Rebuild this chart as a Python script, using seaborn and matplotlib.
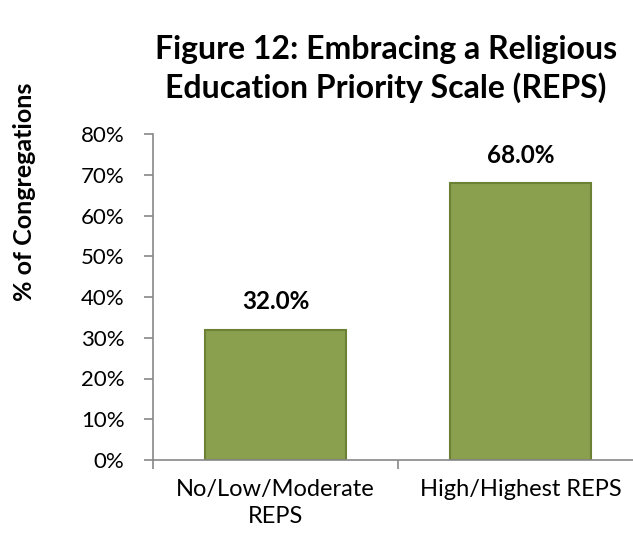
import pandas as pd
import matplotlib.pyplot as plt
import seaborn as sns

categories = ['No/Low/Moderate\nREPS', 'High/Highest REPS']
values = [32.0, 68.0]
yticks = [0, 10, 20, 30, 40, 50, 60, 70, 80]

df = pd.DataFrame({'group': categories, 'pct': values})

sns.set_style('ticks')
plt.rcParams['font.family'] = ['Lato', 'DejaVu Sans']
plt.rcParams['text.color'] = 'black'
plt.rcParams['xtick.color'] = '#888888'
plt.rcParams['ytick.color'] = '#888888'
plt.rcParams['xtick.labelcolor'] = 'black'
plt.rcParams['ytick.labelcolor'] = 'black'

fig = plt.figure(figsize=(6.33, 5.34), dpi=100)
ax = fig.add_axes([153 / 633, 74 / 534, 490 / 633, 326 / 534])

sns.barplot(data=df, x='group', y='pct', color='#8aa04e', saturation=1,
            width=0.575, edgecolor='#6b8235', linewidth=1.5, ax=ax)

for i, v in enumerate(values):
    ax.text(i, v + 4, f'{v:.1f}%', ha='center', va='bottom',
            fontsize=17.5, fontweight='bold', color='black')

ax.set_xlim(-0.5, 1.5)
ax.set_ylim(0, 80)
ax.set_yticks(yticks)
ax.set_yticklabels([f'{t}%' for t in yticks], fontsize=16)
ax.set_xticks([-0.5, 0.5, 1.5], minor=False)
ax.set_xticklabels([])
ax.set_xticks([0, 1], minor=True)
ax.set_xticklabels(categories, minor=True, fontsize=17, linespacing=1.35)
ax.tick_params(axis='x', which='minor', length=0, pad=14)
ax.tick_params(axis='x', which='major', length=6.5, width=1.2, direction='out')
ax.tick_params(axis='y', length=6.5, width=1.2, direction='out', pad=14)

for s in ['top', 'right']:
    ax.spines[s].set_visible(False)
for s in ['left', 'bottom']:
    ax.spines[s].set_color('#888888')
    ax.spines[s].set_linewidth(1.2)

ax.set_xlabel('')
ax.set_ylabel('')
fig.text(24 / 633, 1 - 192 / 534, '% of Congregations', rotation=90,
         ha='center', va='center', fontsize=18, fontweight='bold')

fig.text(386 / 633, 1 - 69 / 534, 'Figure 12: Embracing a Religious\nEducation Priority Scale (REPS)',
         ha='center', va='center', fontsize=23, fontweight='bold', linespacing=1.35)

fig.savefig('out.png', dpi=100)
